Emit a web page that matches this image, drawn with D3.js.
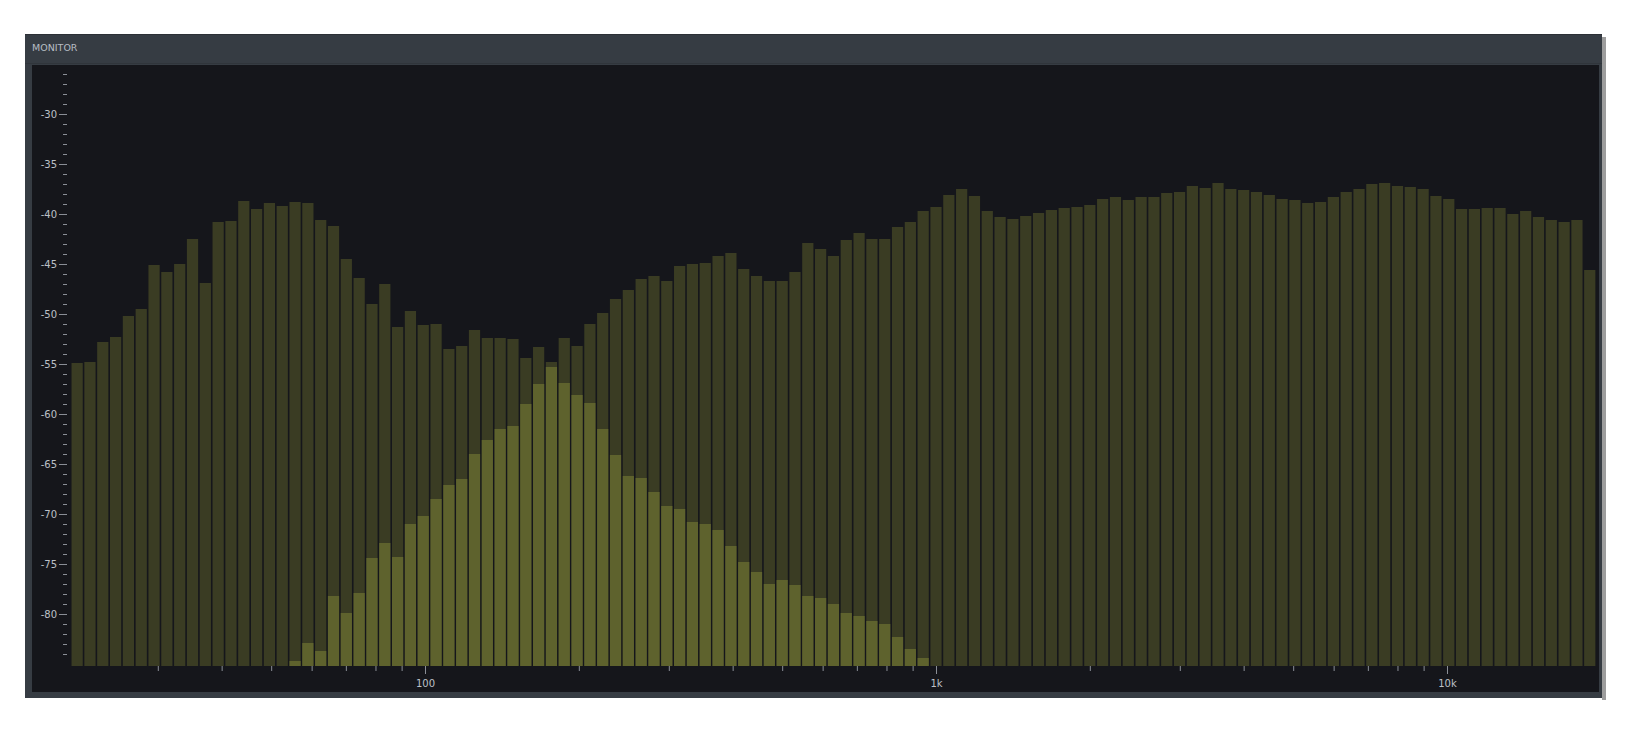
<!DOCTYPE html>
<html><head><meta charset="utf-8">
<script src="https://cdn.jsdelivr.net/npm/d3@7"></script>
<style>
html,body{margin:0;padding:0;background:#ffffff;}
svg{display:block;}
</style></head>
<body>
<svg id="chart" width="1630" height="746"></svg>
<script>
// ---------- data ----------
const panelTitle = "MONITOR";
// 1/12-octave analyser bands; first band is 67 bands below the 1 kHz band
const bandsPerOctave = 12;
const firstBandOffset = -67;

// background (full programme) spectrum, dB, one value per band (119 bands)
const levelFull = [
  -54.9, -54.8, -52.8, -52.3, -50.2, -49.5, -45.1, -45.8, -45.0, -42.5,
  -46.9, -40.8, -40.7, -38.7, -39.5, -38.9, -39.2, -38.8, -38.9, -40.6,
  -41.2, -44.5, -46.4, -49.0, -47.0, -51.3, -49.7, -51.1, -51.0, -53.5,
  -53.2, -51.6, -52.4, -52.4, -52.5, -54.4, -53.3, -54.8, -52.4, -53.2,
  -51.0, -49.9, -48.5, -47.6, -46.5, -46.2, -46.7, -45.2, -45.0, -44.9,
  -44.2, -43.9, -45.5, -46.2, -46.7, -46.7, -45.8, -42.9, -43.5, -44.2,
  -42.6, -41.9, -42.5, -42.5, -41.3, -40.8, -39.7, -39.3, -38.1, -37.5,
  -38.2, -39.7, -40.3, -40.5, -40.2, -39.9, -39.6, -39.4, -39.3, -39.1,
  -38.5, -38.3, -38.6, -38.3, -38.3, -37.9, -37.8, -37.2, -37.4, -36.9,
  -37.5, -37.6, -37.8, -38.1, -38.5, -38.6, -38.9, -38.8, -38.3, -37.8,
  -37.5, -37.0, -36.9, -37.2, -37.3, -37.5, -38.2, -38.5, -39.5, -39.5,
  -39.4, -39.4, -40.0, -39.7, -40.3, -40.6, -40.8, -40.6, -45.6
];

// foreground (monitored) spectrum, dB; null where no bar is drawn
const levelMonitor = [
  null, null, null, null, null, null, null, null, null, null,
  null, null, null, null, null, null, null, -84.7, -82.9, -83.7,
  -78.2, -79.9, -77.9, -74.4, -72.9, -74.3, -71.0, -70.2, -68.5, -67.1,
  -66.5, -64.0, -62.6, -61.5, -61.2, -59.0, -57.0, -55.3, -56.9, -58.1,
  -58.9, -61.5, -64.1, -66.2, -66.4, -67.8, -69.2, -69.5, -70.8, -71.0,
  -71.6, -73.2, -74.8, -75.8, -77.0, -76.6, -77.1, -78.2, -78.4, -79.0,
  -79.9, -80.2, -80.7, -81.0, -82.3, -83.5, -84.4, null, null, null,
  null, null, null, null, null, null, null, null, null, null,
  null, null, null, null, null, null, null, null, null, null,
  null, null, null, null, null, null, null, null, null, null,
  null, null, null, null, null, null, null, null, null, null,
  null, null, null, null, null, null, null, null, null
];

// axis ticks
const yMajorTicks = [-30, -35, -40, -45, -50, -55, -60, -65, -70, -75, -80];
const yMinorTicks = [-26,-27,-28,-29,-31,-32,-33,-34,-36,-37,-38,-39,-41,-42,-43,-44,
  -46,-47,-48,-49,-51,-52,-53,-54,-56,-57,-58,-59,-61,-62,-63,-64,-66,-67,-68,-69,
  -71,-72,-73,-74,-76,-77,-78,-79,-81,-82,-83,-84];
const xMajorTicks = [100, 1000, 10000];
const xMajorLabels = ["100", "1k", "10k"];
const xMinorTicks = [30,40,50,60,70,80,90,200,300,400,500,600,700,800,900,
  2000,3000,4000,5000,6000,7000,8000,9000];

// ---------- layout ----------
const svg = d3.select("#chart");
const colors = {
  frame: "#363c43", plot: "#15161b", shadow: "#9d9d9d",
  full: "#3a3c23", monitor: "#5e622d", tick: "#8a8e96", label: "#bcc0c7", title: "#b7bcc4"
};

// panel frame + shadow
svg.append("rect").attr("x", 1602).attr("y", 37).attr("width", 4).attr("height", 663).attr("fill", colors.shadow);
svg.append("rect").attr("x", 25).attr("y", 34).attr("width", 1577).attr("height", 664).attr("fill", colors.frame);
svg.append("rect").attr("x", 25).attr("y", 34).attr("width", 1577).attr("height", 1).attr("fill", "#2c3036");
svg.append("rect").attr("x", 25).attr("y", 63).attr("width", 1577).attr("height", 1).attr("fill", "#30353b");
svg.append("rect").attr("x", 32).attr("y", 65).attr("width", 1567).attr("height", 627).attr("fill", colors.plot);

svg.append("text").attr("x", 32).attr("y", 51)
  .attr("font-family", "DejaVu Sans, sans-serif").attr("font-size", 9.5)
  .attr("fill", colors.title).text(panelTitle);

// scales
const x = d3.scaleLog().domain([100, 10000]).range([425, 1447]);
const y = d3.scaleLinear().domain([-85.2, -25]).range([666, 64]);
const base = y(-85.2);

const bands = levelFull.map((v, i) => {
  const k = firstBandOffset + i;
  return {
    lo: 1000 * Math.pow(2, (k - 0.5) / bandsPerOctave),
    hi: 1000 * Math.pow(2, (k + 0.5) / bandsPerOctave),
    full: v,
    mon: levelMonitor[i]
  };
});

const gap = 1.6;
svg.append("g").selectAll("rect").data(bands).join("rect")
  .attr("x", d => x(d.lo) + gap / 2)
  .attr("width", d => x(d.hi) - x(d.lo) - gap)
  .attr("y", d => y(d.full))
  .attr("height", d => base - y(d.full))
  .attr("fill", colors.full);

svg.append("g").selectAll("rect").data(bands.filter(d => d.mon !== null)).join("rect")
  .attr("x", d => x(d.lo) + gap / 2)
  .attr("width", d => x(d.hi) - x(d.lo) - gap)
  .attr("y", d => y(d.mon))
  .attr("height", d => base - y(d.mon))
  .attr("fill", colors.monitor);

// y axis
function styleAxis(g) {
  g.select(".domain").remove();
  g.selectAll(".tick line").attr("stroke", colors.tick).attr("stroke-width", 1);
  g.selectAll(".tick text").attr("fill", colors.label)
    .attr("font-family", "DejaVu Sans, sans-serif").attr("font-size", 10);
}
svg.append("g").attr("transform", "translate(67,0)")
  .call(d3.axisLeft(y).tickValues(yMinorTicks).tickSize(4).tickFormat(""))
  .call(styleAxis);
svg.append("g").attr("transform", "translate(67,0)")
  .call(d3.axisLeft(y).tickValues(yMajorTicks).tickSize(8).tickPadding(2).tickFormat(d => String(d)))
  .call(styleAxis);

// x axis
svg.append("g").attr("transform", `translate(0,${base})`)
  .call(d3.axisBottom(x).tickValues(xMinorTicks).tickSize(5).tickFormat(""))
  .call(styleAxis);
svg.append("g").attr("transform", `translate(0,${base})`)
  .call(d3.axisBottom(x).tickValues(xMajorTicks).tickSize(8).tickPadding(6)
    .tickFormat((d, i) => xMajorLabels[i]))
  .call(styleAxis);
</script>
</body></html>
